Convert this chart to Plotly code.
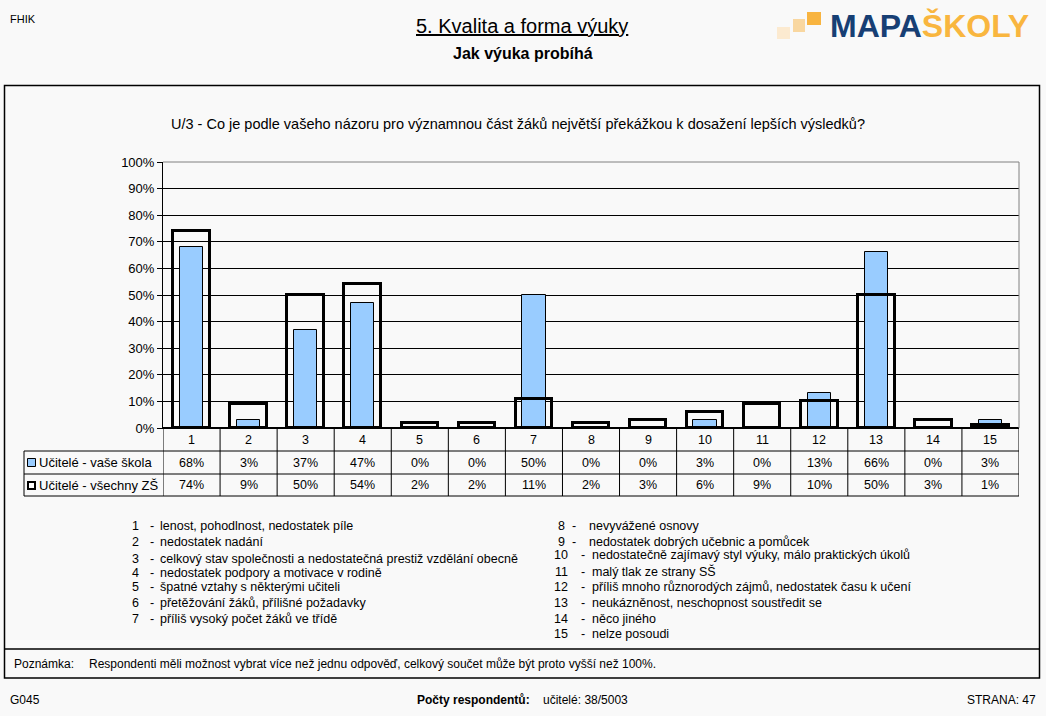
import plotly.graph_objects as go

# ---------------- data ----------------
categories = [str(i) for i in range(1, 16)]
vase_skola = [68, 3, 37, 47, 0, 0, 50, 0, 0, 3, 0, 13, 66, 0, 3]
vsechny_zs = [74, 9, 50, 54, 2, 2, 11, 2, 3, 6, 9, 10, 50, 3, 1]
series_names = ["Učitelé - vaše škola", "Učitelé - všechny ZŠ"]
y_ticks = [0, 10, 20, 30, 40, 50, 60, 70, 80, 90, 100]
items_left = [
    "lenost, pohodlnost, nedostatek píle",
    "nedostatek nadání",
    "celkový stav společnosti a nedostatečná prestiž vzdělání obecně",
    "nedostatek podpory a motivace v rodině",
    "špatné vztahy s některými učiteli",
    "přetěžování žáků, přílišné požadavky",
    "příliš vysoký počet žáků ve třídě",
]
items_right = [
    "nevyvážené osnovy",
    "nedostatek dobrých učebnic a pomůcek",
    "nedostatečně zajímavý styl výuky, málo praktických úkolů",
    "malý tlak ze strany SŠ",
    "příliš mnoho různorodých zájmů, nedostatek času k učení",
    "neukázněnost, neschopnost soustředit se",
    "něco jiného",
    "nelze posoudi",
]

# ---------------- layout helpers ----------------
W, H = 1046, 716
L, R, T, B = 163, 1019, 162, 428
BG = "#F9F9F9"
FONT = "Liberation Sans, Arial, sans-serif"


def px(x):
    return (x - L) / (R - L)


def py(y):
    return (B - y) / (B - T)


xs = list(range(1, len(categories) + 1))

fig = go.Figure()
fig.add_trace(go.Bar(
    x=xs, y=[v / 100 for v in vase_skola], width=0.41, name=series_names[0],
    marker=dict(color="#99CCFF", line=dict(color="black", width=1)),
    hoverinfo="skip",
))
fig.add_trace(go.Bar(
    x=xs, y=[v / 100 for v in vsechny_zs], width=0.64, name=series_names[1],
    marker=dict(color="rgba(0,0,0,0)", line=dict(color="black", width=3)),
    hoverinfo="skip",
))

shapes = []
annotations = []


def line(x0, y0, x1, y1, color="black", width=1, xref="paper"):
    shapes.append(dict(type="line", xref=xref, yref="paper", x0=x0, y0=y0, x1=x1, y1=y1,
                       line=dict(color=color, width=width), layer="above"))


def text(x, y, s, size=12, anchor="left", xref="paper", color="black", bold=False):
    if bold:
        s = "<b>" + s + "</b>"
    annotations.append(dict(x=x, y=y, xref=xref, yref="paper", text=s, showarrow=False,
                            xanchor=anchor, yanchor="middle",
                            font=dict(family=FONT, size=size, color=color)))


# outer boxes
shapes.append(dict(type="rect", xref="paper", yref="paper", x0=px(4.5), y0=py(85.5), x1=px(1039.5), y1=py(678),
                   line=dict(color="black", width=1.5), fillcolor="rgba(0,0,0,0)", layer="below"))
line(px(4.5), py(649), px(1039.5), py(649), width=1.5)

# plot frame: top and right in gray
line(0, 1, 1, 1, color="#808080", width=1)
line(1, 0, 1, 1, color="#808080", width=1)

# data table
for k in range(len(categories) + 1):
    line(k + 0.5, py(428), k + 0.5, py(496), xref="x")
for yy in (451, 474, 496):
    line(px(24), py(yy), 1, py(yy))
line(px(24), py(451), px(24), py(496))

for i, c in enumerate(categories):
    text(xs[i], py(440), c, size=12.5, anchor="center", xref="x")
    text(xs[i], py(462.5), f"{vase_skola[i]}%", size=12.5, anchor="center", xref="x")
    text(xs[i], py(485), f"{vsechny_zs[i]}%", size=12.5, anchor="center", xref="x")

# legend keys in table
shapes.append(dict(type="rect", xref="paper", yref="paper", x0=px(27.5), y0=py(466.5), x1=px(35.5), y1=py(458.5),
                   fillcolor="#99CCFF", line=dict(color="black", width=1), layer="above"))
shapes.append(dict(type="rect", xref="paper", yref="paper", x0=px(28), y0=py(489), x1=px(35), y1=py(482),
                   fillcolor="white", line=dict(color="black", width=2), layer="above"))
text(px(37), py(462.5), series_names[0], size=13)
text(px(37), py(485), series_names[1], size=13)

# headers
text(px(8), py(19), "FHIK", size=11)
text(px(522), py(26), "<u>5. Kvalita a forma výuky</u>", size=20, anchor="center")
text(px(523), py(53), "Jak výuka probíhá", size=16, anchor="center", bold=True)
text(px(518), py(124),
     "U/3 - Co je podle vašeho názoru pro významnou část žáků největší překážkou k dosažení lepších výsledků?",
     size=14.5, anchor="center")

# logo
for (x0, y0, x1, y1, col) in [(777, 27, 790, 39, "#FCEAD0"), (793, 19, 805, 32, "#F9D7A0"),
                              (807, 12, 821, 25, "#F8B440")]:
    shapes.append(dict(type="rect", xref="paper", yref="paper", x0=px(x0), y0=py(y0), x1=px(x1), y1=py(y1),
                       fillcolor=col, line=dict(width=0), layer="above"))
annotations.append(dict(x=px(828), y=py(26), xref="paper", yref="paper", showarrow=False,
                        xanchor="left", yanchor="middle",
                        text="<b><span style='color:#173F74'>MAPA</span><span style='color:#F9B63F'>ŠKOLY</span></b>",
                        font=dict(family="Liberation Sans, Arial", size=32)))

# numbered legend list
left_y = [525.5, 542, 558.5, 573, 587, 602.5, 618.5]
for i, (t, yy) in enumerate(zip(items_left, left_y)):
    text(px(135), py(yy), str(i + 1), size=12.5, anchor="center")
    text(px(152), py(yy), "-", size=12.5, anchor="center")
    text(px(158), py(yy), t, size=12.5)
right_y = [525.5, 541.5, 555, 571.5, 587, 602.5, 618.5, 634]
for i, (t, yy) in enumerate(zip(items_right, right_y)):
    n = i + 8
    text(px(561), py(yy), str(n), size=12.5, anchor="center")
    text(px(574 if n < 10 else 583), py(yy), "-", size=12.5, anchor="center")
    text(px(587 if n < 10 else 590), py(yy), t, size=12.5)

# note & footer
text(px(12), py(664), "Poznámka:", size=12)
text(px(87), py(664),
     "Respondenti měli možnost vybrat více než jednu odpověď, celkový součet může být proto vyšší než 100%.",
     size=12)
text(px(8), py(700), "G045", size=12)
text(px(522), py(700), "<b>Počty respondentů:</b>    učitelé: 38/5003", size=12, anchor="center")
text(px(1038), py(700), "STRANA: 47", size=12, anchor="right")

fig.update_layout(
    width=W, height=H,
    margin=dict(l=L, r=W - R, t=T, b=H - B, pad=0),
    paper_bgcolor=BG, plot_bgcolor=BG,
    barmode="overlay", showlegend=False, bargap=0,
    font=dict(family=FONT, size=12, color="black"),
    xaxis=dict(range=[0.5, len(categories) + 0.5], showticklabels=False, showgrid=False,
               zeroline=False, showline=True, linecolor="black", linewidth=1, ticks="",
               fixedrange=True),
    yaxis=dict(range=[0, 1], tickvals=[v / 100 for v in y_ticks], ticktext=[f"{v}%" for v in y_ticks],
               showgrid=True, gridcolor="black", gridwidth=1, zeroline=True, zerolinecolor="black",
               showline=True, linecolor="black", linewidth=1, ticks="outside", ticklen=5,
               tickcolor="black", tickfont=dict(family=FONT, size=13), fixedrange=True),
    shapes=shapes, annotations=annotations,
)

fig.write_html("out.html", config={"displayModeBar": False},
               post_script="document.body.style.margin='0px';document.body.style.background='#F9F9F9';")
